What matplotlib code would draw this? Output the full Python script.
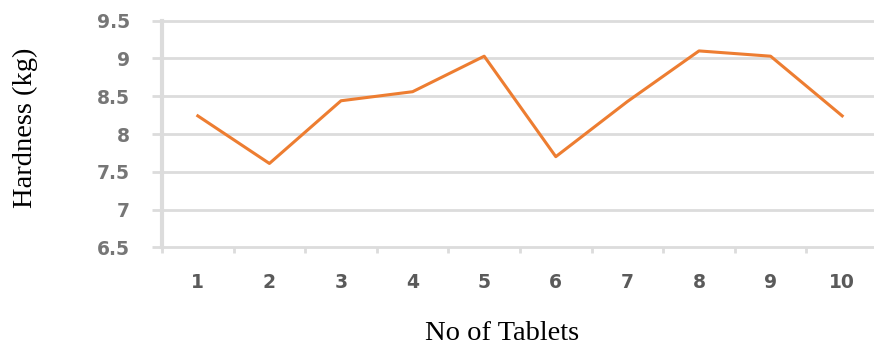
import numpy as np
import matplotlib.pyplot as plt

# hardness of each tablet (kg)
tablets = ["1", "2", "3", "4", "5", "6", "7", "8", "9", "10"]
hardness = [8.24, 7.61, 8.44, 8.56, 9.03, 7.70, 8.43, 9.10, 9.03, 8.24]
yticks = [6.5, 7, 7.5, 8, 8.5, 9, 9.5]
ytick_labels = ["6.5", "7", "7.5", "8", "8.5", "9", "9.5"]

W, H = 874, 347
fig = plt.figure(figsize=(W / 100, H / 100), dpi=100)
ax = fig.add_axes([162 / W, 1 - 247.3 / H, 716 / W, (247.3 - 20.7) / H])

grid_col = "#dcdcdc"

x = np.arange(1, len(tablets) + 1)
ax.set_xlim(0.5, len(tablets) + 0.5)
ax.set_ylim(6.5, 9.5)

# horizontal gridlines, drawn unclipped so the top one shows fully
for v in yticks:
    ax.axhline(v, color=grid_col, lw=2.0, zorder=1, clip_on=False)

ax.plot(x, hardness, color="#ED7D31", lw=2.2, zorder=3)

for s in ["top", "right", "bottom"]:
    ax.spines[s].set_visible(False)
ax.spines["left"].set_color(grid_col)
ax.spines["left"].set_linewidth(3.0)
ax.spines["left"].set_bounds(6.5, 9.5)

ax.set_yticks(yticks)
ax.set_yticklabels(ytick_labels)
ax.tick_params(axis="y", length=7.2, width=2.0, color=grid_col, pad=15.8,
               labelsize=13.5, labelcolor="#767676")

ax.set_xticks(x)
ax.set_xticklabels(tablets)
ax.set_xticks(np.arange(0.5, len(tablets) + 0.6, 1), minor=True)
ax.tick_params(axis="x", which="major", length=0, pad=18.5,
               labelsize=13.5, labelcolor="#5a5a5a")
ax.tick_params(axis="x", which="minor", length=4.5, width=2.0, color=grid_col)

for lab in ax.get_xticklabels() + ax.get_yticklabels():
    lab.set_fontweight("semibold")

fig.text(25 / W, 1 - 128 / H, "Hardness (kg)", rotation=90, ha="center", va="center",
         family="Liberation Serif", fontsize=20.5, color="black")
fig.text(502 / W, 1 - 340 / H, "No of Tablets", ha="center", va="baseline",
         family="Liberation Serif", fontsize=20.5, color="black")

fig.savefig("out.png", dpi=100)
